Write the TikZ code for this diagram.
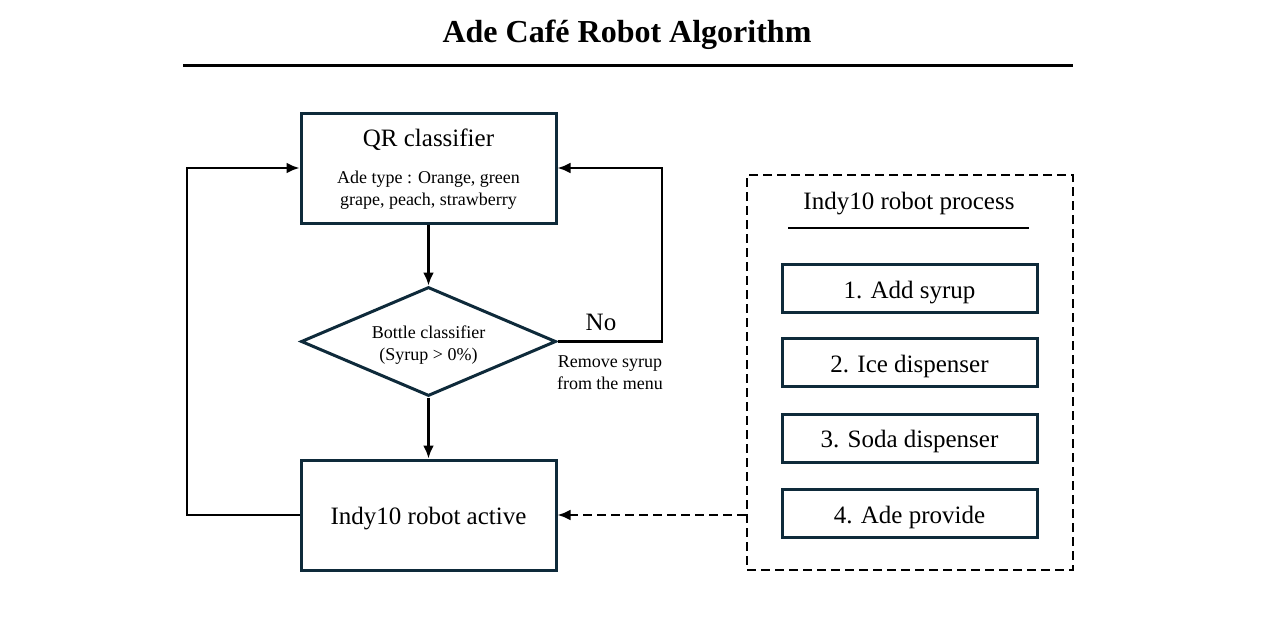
\documentclass[tikz,border=0pt]{standalone}
\usepackage{fontspec}
\setmainfont{Liberation Serif}
\usetikzlibrary{shapes.geometric,arrows.meta}
\definecolor{navy}{HTML}{0E2A3A}
\begin{document}
\begin{tikzpicture}[x=0.5pt,y=-0.5pt,
step box/.style={%
draw=navy,
line width=1.5pt,
minimum width=127.5pt,
font=\fontsize{12.5}{15}\selectfont,
},
proc/.style={%
draw=navy,
line width=1.5pt,
minimum width=127.5pt,
minimum height=24pt,
text height=11pt,
text depth=1.5pt,
font=\fontsize{12.5}{15}\selectfont,
},
big/.style={%
font=\fontsize{12.5}{15}\selectfont,
},
small/.style={%
font=\fontsize{9}{11}\selectfont,
align=center,
},
flow/.style={%
-{Latex[length=6.5pt,width=5.5pt]},
line width=1.3pt,
},
]
\useasboundingbox (0,0) rectangle (1281,637);
%% Title
\node[font=\fontsize{16}{19}\bfseries\selectfont]at(627,35)(title){Ade Café Robot Algorithm};
\draw[line width=1.5pt](183,65)--(1073,65);
%% Flow
\node[step box,minimum height=55pt]at(428.5,168)(qr){};
\node[big]at(428.5,140)(qrt){QR classifier};
\node[small]at(428.5,190.5)(qrs){Ade type : Orange, green\\grape, peach, strawberry};
\node[diamond,draw=navy,line width=1.5pt,minimum width=127.5pt,minimum height=54.5pt,inner sep=0pt,aspect=2.34]at(428.5,341.5)(bottle){};
\node[small]at(428.5,345)(bottlet){Bottle classifier\\(Syrup > 0\%)};
\node[step box,minimum height=55pt,text height=11pt,text depth=1.5pt]at(428.5,515)(active){Indy10 robot active};
\draw[flow](qr.south)--(bottle.north);
\draw[flow](bottle.south)--(active.north);
\draw[flow](active.west)--(187,515)|-(qr.west);
\draw[flow](bottle.east)--(662,341.5)|-(qr.east);
\node[big]at(601,322)(no){No};
\node[small]at(610,373)(remove){Remove syrup\\from the menu};
%% Indy10 process
\node[draw,dash pattern=on 4.5pt off 2.5pt,line width=1.4pt,minimum width=163pt,minimum height=197.5pt]at(910,372.5)(robot){};
\node[big]at(909,204)(robott){Indy10 robot process};
\draw[line width=1.3pt](788,228)--(1029,228);
\node[proc]at(909.5,288.5)(p1){1. Add syrup};
\node[proc]at(909.5,362.5)(p2){2. Ice dispenser};
\node[proc]at(909.5,438)(p3){3. Soda dispenser};
\node[proc]at(909.5,513.5)(p4){4. Ade provide};
\draw[flow,dash pattern=on 4.5pt off 2.5pt](robot.west|-active)--(active.east);
\end{tikzpicture}
\end{document}
